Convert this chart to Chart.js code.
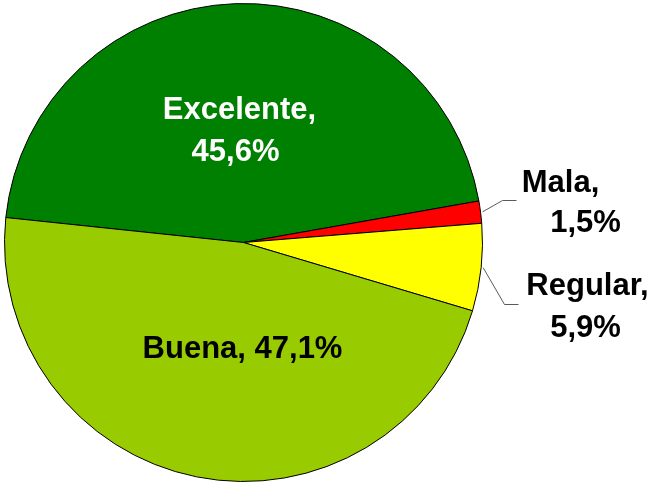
<!DOCTYPE html>
<html>
<head>
<meta charset="utf-8">
<script src="https://cdn.jsdelivr.net/npm/chart.js@4/dist/chart.umd.min.js"></script>
<style>
  html, body { margin: 0; padding: 0; background: #ffffff; }
  #wrap { width: 654px; height: 484px; }
</style>
</head>
<body>
<div id="wrap"><canvas id="pie-chart" width="654" height="484"></canvas></div>
<script>
// Datos de la encuesta
var categories = ['Excelente', 'Mala', 'Regular', 'Buena'];
var percentages = [45.6, 1.5, 5.9, 47.1];
var sliceColors = ['#008000', '#FF0000', '#FFFF00', '#99CC00'];

// Posicion de cada etiqueta respecto al centro del pastel (px)
var labelStyles = [
    { color: '#ffffff', lines: [[-4, -124], [-8, -82]] },
    { color: '#000000', lines: [[317, -51], [342, -11]], leader: [[259, -42], [273, -42]] },
    { color: '#000000', lines: [[344, 52], [342, 94]], leader: [[261, 62], [275, 62]] },
    { color: '#000000', oneLine: true, lines: [[-1, 115]] }
];

function fmt(v) {
    return v.toFixed(1).replace('.', ',') + '%';
}

var labelPlugin = {
    id: 'labelPlugin',
    afterDatasetsDraw: function(chart) {
        var ctx = chart.ctx;
        var meta = chart.getDatasetMeta(0);
        ctx.save();
        ctx.font = 'bold 31px "Liberation Sans", Arial, sans-serif';
        ctx.textAlign = 'center';
        ctx.textBaseline = 'alphabetic';
        meta.data.forEach(function(arc, i) {
            var st = labelStyles[i];
            var cx = arc.x, cy = arc.y;
            var texts = st.oneLine ? [categories[i] + ', ' + fmt(percentages[i])]
                                   : [categories[i] + ',', fmt(percentages[i])];
            if (st.leader) {
                var mid = (arc.startAngle + arc.endAngle) / 2;
                var r = arc.outerRadius + 2;
                ctx.strokeStyle = '#5a5a5a';
                ctx.lineWidth = 1;
                ctx.beginPath();
                ctx.moveTo(cx + r * Math.cos(mid), cy + r * Math.sin(mid));
                ctx.lineTo(cx + st.leader[0][0], cy + st.leader[0][1]);
                ctx.lineTo(cx + st.leader[1][0], cy + st.leader[1][1]);
                ctx.stroke();
            }
            ctx.fillStyle = st.color;
            texts.forEach(function(t, k) {
                ctx.fillText(t, cx + st.lines[k][0], cy + st.lines[k][1]);
            });
        });
        ctx.restore();
    }
};

var context = document.getElementById('pie-chart').getContext('2d');
var pieChart = new Chart(context, {
    type: 'pie',
    data: {
        labels: categories,
        datasets: [{
            data: percentages,
            backgroundColor: sliceColors,
            borderColor: '#000000',
            borderWidth: 1
        }]
    },
    options: {
        responsive: false,
        animation: false,
        rotation: -84,
        layout: { padding: { left: 4, right: 171, top: 3, bottom: 2 } },
        plugins: {
            legend: { display: false },
            tooltip: { enabled: false }
        }
    },
    plugins: [labelPlugin]
});
</script>
</body>
</html>
